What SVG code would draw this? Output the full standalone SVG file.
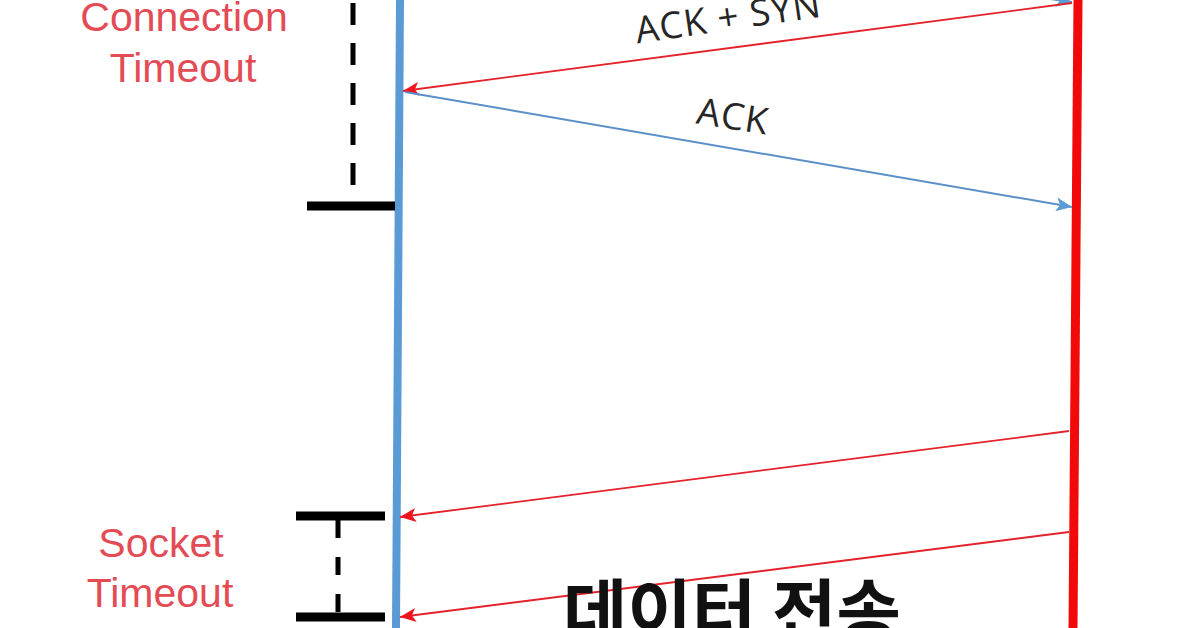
<svg xmlns="http://www.w3.org/2000/svg" width="1199" height="628" viewBox="0 0 1199 628">
  <style>
    .timeout { font-family: "Liberation Sans", Arial, sans-serif; font-size: 41px; fill: #e34b55; text-anchor: middle; }
    .msg { font-family: "Open Sans", "Noto Sans", sans-serif; font-size: 37px; fill: #262626; text-anchor: middle; letter-spacing: 1px; }
    .big { font-family: "Noto Sans CJK KR", "Noto Sans", sans-serif; font-size: 70px; font-weight: 700; fill: #111; }
    .bar { stroke: #000; stroke-width: 9; fill: none; }
    .dash { stroke: #000; stroke-width: 5; fill: none; }
    .red { stroke: #e3222c; stroke-width: 1.8; fill: none; marker-end: url(#redArrow); }
    .blue { stroke: #5a8fc8; stroke-width: 2; fill: none; marker-end: url(#blueArrow); }
  </style>
  <defs>
    <marker id="redArrow" markerUnits="userSpaceOnUse" markerWidth="18" markerHeight="14" refX="16" refY="7" orient="auto">
      <path d="M0,0 L16,7 L0,14 L4,7 Z" fill="#f0141e"/>
    </marker>
    <marker id="blueArrow" markerUnits="userSpaceOnUse" markerWidth="18" markerHeight="14" refX="16" refY="7" orient="auto">
      <path d="M0,0 L16,7 L0,14 L4,7 Z" fill="#5b9bd5"/>
    </marker>
  </defs>
  <rect width="1199" height="628" fill="#ffffff"/>

  <g id="client-lifeline">
    <line x1="400" y1="0" x2="396" y2="628" stroke="#5b9bd5" stroke-width="8"/>
  </g>
  <g id="server-lifeline">
    <line x1="1078" y1="0" x2="1073" y2="628" stroke="#f20a0a" stroke-width="9"/>
  </g>

  <g id="connection-timeout">
    <line class="dash" x1="353" y1="3" x2="353" y2="186" stroke-dasharray="22 18"/>
    <line class="bar" x1="307" y1="206" x2="395" y2="206"/>
    <text class="timeout" x="184" y="31">Connection</text>
    <text class="timeout" x="183" y="82">Timeout</text>
  </g>

  <g id="socket-timeout">
    <line class="bar" x1="296" y1="516" x2="385" y2="516"/>
    <line class="bar" x1="296" y1="617" x2="385" y2="617"/>
    <line class="dash" x1="338" y1="520" x2="338" y2="613" stroke-dasharray="18 19"/>
    <text class="timeout" x="161" y="557">Socket</text>
    <text class="timeout" x="160" y="607">Timeout</text>
  </g>

  <g id="connectors">
    <line class="blue" x1="400" y1="-90" x2="1072" y2="2"/>
    <line class="red" x1="1072" y1="3" x2="403" y2="91"/>
    <line class="blue" x1="405" y1="92" x2="1072" y2="207"/>
    <line class="red" x1="1069" y1="431" x2="400" y2="517"/>
    <line class="red" x1="1069" y1="532" x2="400" y2="617"/>
  </g>

  <g id="labels">
    <text class="msg" x="730" y="30" transform="rotate(-8.3 730 30)">ACK + SYN</text>
    <text class="msg" x="731" y="129" transform="rotate(9 731 129)">ACK</text>
    <text class="big" x="563" y="638">데이터 전송</text>
  </g>
</svg>
